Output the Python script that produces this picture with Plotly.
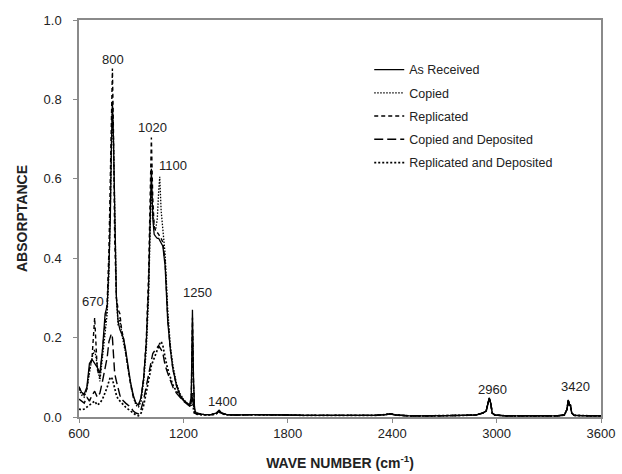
import plotly.graph_objects as go

# Wavenumber grid (cm-1): detailed low region + sparse high region
wn_low = [600, 615, 630, 645, 660, 675, 690, 705, 720, 735, 750, 762, 772, 780, 786, 792, 798, 805,
          815, 825, 835, 845, 855, 868, 882, 897, 912, 927, 942, 957, 972, 987, 1000, 1008, 1016, 1024,
          1032, 1040, 1050, 1058, 1064, 1072, 1082, 1095, 1110, 1125, 1140, 1160, 1180, 1200, 1220, 1235,
          1245, 1252, 1258, 1264, 1272, 1290, 1320, 1360, 1390, 1405, 1420, 1450]
wn_high = [1500, 1600, 1700, 1800, 1900, 2000, 2100, 2200, 2300, 2360, 2390, 2420, 2500, 2600, 2700,
           2800, 2880, 2920, 2940, 2950, 2958, 2966, 2975, 2990, 3050, 3150, 3250, 3350, 3390, 3405,
           3412, 3418, 3424, 3432, 3445, 3480, 3540, 3600]

as_received_low = [0.077, 0.062, 0.058, 0.075, 0.135, 0.145, 0.135, 0.125, 0.11, 0.17, 0.26, 0.28, 0.38, 0.50,
                   0.68, 0.795, 0.70, 0.50, 0.30, 0.24, 0.22, 0.21, 0.20, 0.17, 0.13, 0.085, 0.055, 0.035,
                   0.03, 0.05, 0.10, 0.19, 0.33, 0.50, 0.625, 0.50, 0.46, 0.455, 0.45, 0.45, 0.445, 0.44,
                   0.43, 0.38, 0.24, 0.17, 0.12, 0.08, 0.055, 0.042, 0.035, 0.03, 0.05, 0.27, 0.10, 0.02,
                   0.01, 0.008, 0.006, 0.006, 0.01, 0.017, 0.01, 0.006]
copied_low = [0.07, 0.055, 0.05, 0.07, 0.11, 0.15, 0.17, 0.13, 0.09, 0.15, 0.22, 0.26, 0.36, 0.52,
              0.70, 0.78, 0.70, 0.48, 0.30, 0.23, 0.25, 0.21, 0.19, 0.16, 0.12, 0.08, 0.05, 0.03,
              0.025, 0.04, 0.09, 0.17, 0.30, 0.45, 0.58, 0.52, 0.48, 0.47, 0.50, 0.57, 0.605, 0.52,
              0.47, 0.41, 0.27, 0.18, 0.13, 0.085, 0.06, 0.045, 0.035, 0.028, 0.035, 0.22, 0.08, 0.02,
              0.01, 0.008, 0.006, 0.006, 0.01, 0.016, 0.01, 0.006]
replicated_low = [0.075, 0.06, 0.055, 0.07, 0.12, 0.15, 0.25, 0.12, 0.10, 0.17, 0.25, 0.29, 0.42, 0.62,
                  0.80, 0.878, 0.72, 0.45, 0.30, 0.27, 0.26, 0.22, 0.20, 0.16, 0.12, 0.08, 0.05, 0.035,
                  0.03, 0.05, 0.10, 0.20, 0.36, 0.55, 0.704, 0.55, 0.48, 0.47, 0.465, 0.46, 0.455, 0.45,
                  0.44, 0.39, 0.25, 0.17, 0.12, 0.08, 0.055, 0.042, 0.035, 0.028, 0.04, 0.25, 0.09, 0.02,
                  0.01, 0.008, 0.006, 0.006, 0.01, 0.016, 0.01, 0.006]
copied_dep_low = [0.045, 0.04, 0.035, 0.05, 0.04, 0.055, 0.065, 0.05, 0.06, 0.09, 0.12, 0.15, 0.19, 0.205,
                  0.21, 0.20, 0.15, 0.11, 0.09, 0.07, 0.055, 0.045, 0.04, 0.035, 0.03, 0.025, 0.015, 0.01,
                  0.008, 0.02, 0.045, 0.08, 0.11, 0.13, 0.15, 0.16, 0.165, 0.17, 0.175, 0.18, 0.175, 0.17,
                  0.16, 0.13, 0.11, 0.09, 0.075, 0.06, 0.05, 0.04, 0.033, 0.028, 0.03, 0.06, 0.03, 0.01,
                  0.008, 0.007, 0.006, 0.006, 0.009, 0.014, 0.009, 0.006]
replicated_dep_low = [0.02, 0.018, 0.02, 0.025, 0.03, 0.035, 0.04, 0.03, 0.035, 0.045, 0.06, 0.075, 0.09, 0.10,
                      0.10, 0.095, 0.085, 0.07, 0.055, 0.045, 0.04, 0.035, 0.03, 0.025, 0.02, 0.015, 0.01, 0.005,
                      0.003, 0.01, 0.03, 0.06, 0.09, 0.11, 0.13, 0.14, 0.15, 0.16, 0.17, 0.18, 0.185, 0.19,
                      0.18, 0.15, 0.12, 0.10, 0.08, 0.065, 0.052, 0.042, 0.035, 0.028, 0.03, 0.05, 0.02, 0.008,
                      0.007, 0.006, 0.005, 0.005, 0.008, 0.013, 0.008, 0.005]
tail_high = [0.005, 0.006, 0.006, 0.005, 0.004, 0.004, 0.004, 0.004, 0.004, 0.006, 0.008, 0.005, 0.003,
             0.003, 0.003, 0.004, 0.005, 0.01, 0.015, 0.03, 0.048, 0.035, 0.01, 0.005, 0.003, 0.003,
             0.003, 0.003, 0.005, 0.02, 0.043, 0.03, 0.03, 0.01, 0.004, 0.003, 0.003, 0.003]

series_names = ["As Received", "Copied", "Replicated", "Copied and Deposited", "Replicated and Deposited"]
series_low = [as_received_low, copied_low, replicated_low, copied_dep_low, replicated_dep_low]
series_dash = ["solid", "1.5px,1.5px", "4px,3px", "9px,4px", "2px,2px"]
series_width = [1.3, 1.3, 1.4, 1.4, 1.7]

peak_labels = ["670", "800", "1020", "1100", "1250", "1400", "2960", "3420"]
peak_label_x = [680, 793, 1023, 1140, 1281, 1425, 2977, 3455]
peak_label_y = [0.29, 0.90, 0.73, 0.633, 0.313, 0.038, 0.07, 0.077]

x_ticks = [600, 1200, 1800, 2400, 3000, 3600]
y_ticks = [0.0, 0.2, 0.4, 0.6, 0.8, 1.0]

wn = wn_low + wn_high
fig = go.Figure()
for i, name in enumerate(series_names):
    fig.add_trace(go.Scatter(
        x=wn, y=series_low[i] + tail_high, mode="lines", name=name,
        legendgroup=name,
        line=dict(color="black", width=series_width[i], dash=series_dash[i]),
    ))

for t, xv, yv in zip(peak_labels, peak_label_x, peak_label_y):
    fig.add_annotation(x=xv, y=yv, text=t, showarrow=False,
                       font=dict(family="Liberation Sans, Arial", size=13, color="#222"))

fig.update_layout(
    width=622, height=474,
    margin=dict(l=79, r=21, t=20, b=57),
    paper_bgcolor="white", plot_bgcolor="white",
    font=dict(family="Liberation Sans, Arial", size=13, color="#222"),
    showlegend=True,
    legend=dict(x=0.556, y=0.912, xanchor="left", yanchor="top",
                bgcolor="rgba(0,0,0,0)", font=dict(size=12.5, color="#222"),
                tracegroupgap=4, itemwidth=30),
)
fig.update_xaxes(range=[600, 3600], tickvals=x_ticks, ticktext=[str(v) for v in x_ticks],
                 automargin=False,
                 showgrid=False, zeroline=False, showline=True, linecolor="#8a8a8a", linewidth=1.5,
                 mirror=True, ticks="outside", ticklen=4, tickcolor="#8a8a8a",
                 tickfont=dict(size=13, color="#222"),
                 title=dict(text="<b>WAVE NUMBER (cm<sup>-1</sup>)</b>", font=dict(size=14, color="#222"),
                            standoff=18))
fig.update_yaxes(range=[0, 1.0], tickvals=y_ticks, ticktext=[f"{v:.1f}" for v in y_ticks],
                 automargin=False,
                 showgrid=False, zeroline=False, showline=True, linecolor="#8a8a8a", linewidth=1.5,
                 mirror=True, ticks="outside", ticklen=4, tickcolor="#8a8a8a",
                 tickfont=dict(size=13, color="#222"), ticklabelstandoff=9,
                 title=dict(text="<b>ABSORPTANCE</b>", font=dict(size=14, color="#222"), standoff=13))

fig.write_html("out.html")
